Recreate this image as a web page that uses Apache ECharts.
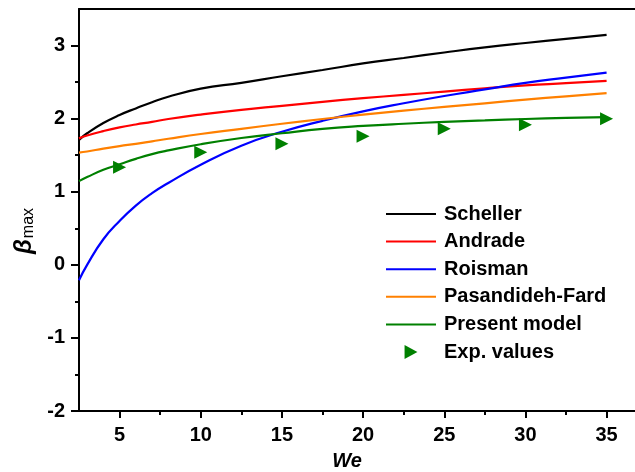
<!DOCTYPE html>
<html>
<head>
<meta charset="utf-8">
<script src="https://cdn.jsdelivr.net/npm/echarts@6/dist/echarts.min.js"></script>
<style>html,body{margin:0;padding:0;background:#fff;}#c{width:635px;height:472px;}</style>
</head>
<body>
<div id="c"></div>
<script>
// Weber number sample points
var weSamples = [2.5, 3, 4, 5, 6, 7, 8, 10, 12.5, 15, 17.5, 20, 22.5, 25, 27.5, 30, 32.5, 35];
var scheller = [1.71, 1.80, 1.94, 2.05, 2.14, 2.225, 2.30, 2.41, 2.49, 2.58, 2.665, 2.755, 2.83, 2.905, 2.975, 3.035, 3.09, 3.146];
var andrade = [1.73, 1.77, 1.83, 1.88, 1.92, 1.955, 1.995, 2.055, 2.12, 2.175, 2.23, 2.28, 2.325, 2.37, 2.415, 2.455, 2.485, 2.516];
var roisman = [-0.21, 0.0, 0.35, 0.60, 0.81, 0.98, 1.12, 1.37, 1.63, 1.82, 1.97, 2.10, 2.21, 2.31, 2.40, 2.49, 2.56, 2.63];
var pasandideh = [1.535, 1.55, 1.59, 1.625, 1.655, 1.69, 1.725, 1.79, 1.86, 1.93, 1.995, 2.055, 2.11, 2.16, 2.21, 2.26, 2.305, 2.35];
var present = [1.145, 1.20, 1.30, 1.375, 1.45, 1.515, 1.565, 1.65, 1.735, 1.80, 1.86, 1.90, 1.93, 1.955, 1.975, 1.995, 2.01, 2.02];
var expWe = [5, 10, 15, 20, 25, 30, 35];
var expBeta = [1.335, 1.54, 1.655, 1.76, 1.86, 1.915, 2.0];
var xMajorTicks = [5, 10, 15, 20, 25, 30, 35];
var xMinorTicks = [7.5, 12.5, 17.5, 22.5, 27.5, 32.5];
var yMajorTicks = [-2, -1, 0, 1, 2, 3];
var yMinorTicks = [-1.5, -0.5, 0.5, 1.5, 2.5];

function pairs(xs, ys) { return xs.map(function (x, i) { return [x, ys[i]]; }); }

var FONT = 'Liberation Sans, Arial, sans-serif';
var chart = echarts.init(document.getElementById('c'), null, { renderer: 'canvas' });

function lineSeries(name, ys, color) {
  return {
    name: name, type: 'line', xAxisIndex: 0, yAxisIndex: 0,
    data: pairs(weSamples, ys), smooth: 0.5, showSymbol: false, symbol: 'none',
    lineStyle: { color: color, width: 2.2 }, itemStyle: { color: color },
    z: 3, animation: false
  };
}

var lineLegend = function (n) { return { name: n, itemStyle: { opacity: 0 } }; };

var option = {
  animation: false,
  backgroundColor: '#fff',
  grid: { left: 79, right: 0, top: 9, bottom: 61, containLabel: false, outerBoundsMode: 'none' },
  xAxis: [
    {
      type: 'value', position: 'bottom', min: 2.5, max: 36.75,
      name: 'We', nameLocation: 'middle', nameGap: 40,
      nameTextStyle: { fontFamily: FONT, fontSize: 20, fontWeight: 'bold', fontStyle: 'italic', color: '#000', padding: [0, 20, 0, 0] },
      axisLine: { show: true, onZero: false, lineStyle: { color: '#000', width: 2 } },
      axisTick: { show: true, customValues: xMajorTicks, length: 7, inside: false, lineStyle: { color: '#000', width: 2 } },
      axisLabel: { show: true, customValues: xMajorTicks, margin: 14, fontFamily: FONT, fontSize: 20, fontWeight: 'bold', color: '#000' },
      splitLine: { show: false }
    },
    {
      type: 'value', position: 'bottom', min: 2.5, max: 36.75,
      axisLine: { show: false, onZero: false },
      axisTick: { show: true, customValues: xMinorTicks, length: 4, inside: false, lineStyle: { color: '#000', width: 2 } },
      axisLabel: { show: false },
      splitLine: { show: false }
    },
    {
      type: 'value', position: 'top', min: 2.5, max: 36.75,
      axisLine: { show: true, onZero: false, lineStyle: { color: '#000', width: 2 } },
      axisTick: { show: false }, axisLabel: { show: false }, splitLine: { show: false }
    }
  ],
  yAxis: [
    {
      type: 'value', position: 'left', min: -2, max: 3.5,
      name: '{b|β}{s|max}', nameLocation: 'middle', nameGap: 39, nameRotate: 90,
      nameTextStyle: {
        color: '#000', padding: [0, 42, 0, 0],
        rich: {
          b: { fontFamily: FONT, fontSize: 24, fontWeight: 'bold', fontStyle: 'italic', color: '#000' },
          s: { fontFamily: FONT, fontSize: 16, color: '#000', padding: [8, 0, 0, 1] }
        }
      },
      axisLine: { show: true, onZero: false, lineStyle: { color: '#000', width: 2 } },
      axisTick: { show: true, customValues: yMajorTicks, length: 8, inside: false, lineStyle: { color: '#000', width: 2 } },
      axisLabel: { show: true, customValues: yMajorTicks, margin: 14, fontFamily: FONT, fontSize: 20, fontWeight: 'bold', color: '#000' },
      splitLine: { show: false }
    },
    {
      type: 'value', position: 'left', min: -2, max: 3.5,
      axisLine: { show: false, onZero: false },
      axisTick: { show: true, customValues: yMinorTicks, length: 4, inside: false, lineStyle: { color: '#000', width: 2 } },
      axisLabel: { show: false }, splitLine: { show: false }
    }
  ],
  legend: {
    orient: 'vertical', left: 385, top: 204, padding: 0,
    itemWidth: 50, itemHeight: 14, itemGap: 7.6,
    textStyle: { fontFamily: FONT, fontSize: 20, fontWeight: 'bold', color: '#000', lineHeight: 20, padding: [0, 0, 0, 3] },
    data: [
      lineLegend('Scheller'), lineLegend('Andrade'), lineLegend('Roisman'),
      lineLegend('Pasandideh-Fard'), lineLegend('Present model'),
      { name: 'Exp. values', icon: 'path://M0,0 L11,6 L0,12 Z', symbolRotate: 0, itemStyle: { color: '#008000', opacity: 1 } }
    ]
  },
  series: [
    lineSeries('Scheller', scheller, '#000000'),
    lineSeries('Andrade', andrade, '#ff0000'),
    lineSeries('Roisman', roisman, '#0000ff'),
    lineSeries('Pasandideh-Fard', pasandideh, '#ff8000'),
    lineSeries('Present model', present, '#008000'),
    {
      name: 'Exp. values', type: 'scatter', xAxisIndex: 0, yAxisIndex: 0,
      data: pairs(expWe, expBeta), symbol: 'triangle', symbolSize: 13, symbolRotate: -90,
      itemStyle: { color: '#008000', opacity: 1 }, z: 4
    }
  ]
};
chart.setOption(option);
</script>
</body>
</html>
